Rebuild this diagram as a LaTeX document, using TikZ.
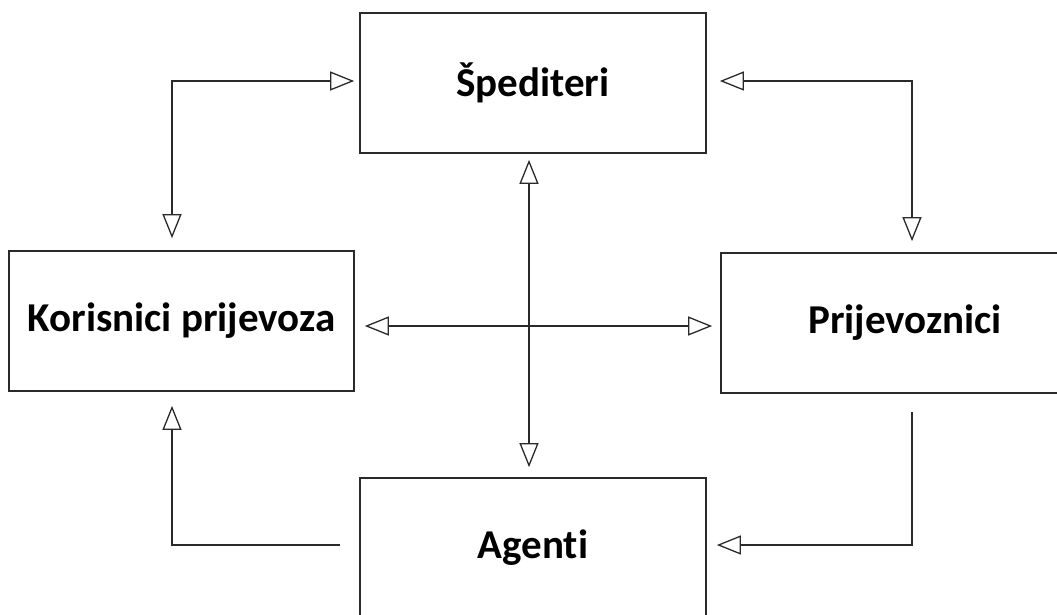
\documentclass[tikz,border=0pt]{standalone}
\usepackage{fontspec}
\setmainfont{Carlito}[Ligatures=NoCommon]
\usetikzlibrary{arrows.meta}
\definecolor{linegray}{HTML}{2A2A2A}
\begin{document}
\begin{tikzpicture}[x=1pt,y=-1pt,
  box/.style={draw=linegray, line width=1.7pt, fill=white, inner sep=0pt,
    font=\fontsize{41}{46}\selectfont\bfseries, text=black},
  conn/.style={draw=linegray, line width=1.5pt},
  tip/.style={-{Triangle[fill=white, length=24pt, width=19pt, line width=1.3pt]}},
  dbl/.style={{Triangle[fill=white, length=24pt, width=19pt, line width=1.3pt]}-{Triangle[fill=white, length=24pt, width=19pt, line width=1.3pt]}}
]
\useasboundingbox (0,0) rectangle (1057,614);
\clip (0,0) rectangle (1057,614);
\fill[white] (0,0) rectangle (1057,614);

\node[box, minimum width=346pt, minimum height=140pt] (sped) at (533,83) {Špediteri};
\node[box, minimum width=345pt, minimum height=140pt] (kor) at (181.5,321) {Korisnici prijevoza};
\node[box, minimum width=368pt, minimum height=140pt] (prij) at (905,323) {Prijevoznici};
\node[box, minimum width=346pt, minimum height=140pt] (agen) at (533,548) {Agenti};

% Spediteri <-> Korisnici
\draw[conn, dbl, shorten <=5pt, shorten >=12pt]
  ([yshift=2pt]sped.west) -| ([xshift=-9.5pt]kor.north);
% Spediteri <-> Prijevoznici
\draw[conn, dbl, shorten <=13pt, shorten >=11pt]
  ([yshift=2pt]sped.east) -| ([xshift=7pt]prij.north);
% Spediteri <-> Agenti
\draw[conn, dbl, shorten <=6pt, shorten >=10pt]
  ([xshift=-4pt]sped.south) -- ([xshift=-4pt]agen.north);
% Korisnici <-> Prijevoznici
\draw[conn, dbl, shorten <=10pt, shorten >=8pt]
  ([yshift=-5pt]kor.east) -- ([yshift=-5pt]kor.east -| prij.west);
% Agenti -> Korisnici
\draw[conn, tip, shorten <=19pt, shorten >=14pt]
  ([yshift=3pt]agen.west) -| ([xshift=-9.5pt]kor.south);
% Prijevoznici -> Agenti
\draw[conn, tip, shorten <=18pt, shorten >=10pt]
  ([xshift=7pt]prij.south) |- ([yshift=3pt]agen.east);
\end{tikzpicture}
\end{document}
